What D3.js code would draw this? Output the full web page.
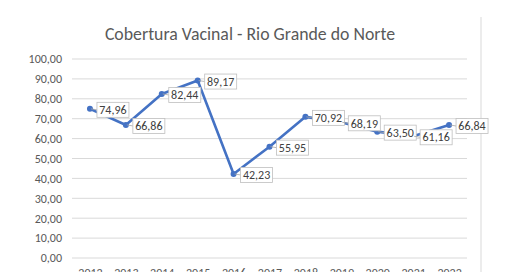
<!DOCTYPE html>
<html>
<head>
<meta charset="utf-8">
<script src="https://cdn.jsdelivr.net/npm/d3@7"></script>
<style>
  body { margin: 0; background: #fff; }
  svg { display: block; font-family: Carlito, Calibri, Lato, sans-serif; }
</style>
</head>
<body>
<div id="chart"></div>
<script>
const width = 520, height = 272;

// data
const years = ["2012", "2013", "2014", "2015", "2016", "2017", "2018", "2019", "2020", "2021", "2022"];
const coverage = [74.96, 66.86, 82.44, 89.17, 42.23, 55.95, 70.92, 68.19, 63.50, 61.16, 66.84];
const yTicks = [0, 10, 20, 30, 40, 50, 60, 70, 80, 90, 100];

const fmt = v => v.toFixed(2).replace(".", ",");

const svg = d3.select("#chart").append("svg")
    .attr("width", width)
    .attr("height", height);

const x = d3.scalePoint()
    .domain(years)
    .range([72, 467])
    .padding(0.5);

const y = d3.scaleLinear()
    .domain([0, 100])
    .range([258, 59]);

// chart area right border
svg.append("line")
    .attr("x1", 481).attr("x2", 481)
    .attr("y1", 17).attr("y2", height)
    .attr("stroke", "#d9d9d9");

// title
svg.append("text")
    .attr("x", 250)
    .attr("y", 40)
    .attr("text-anchor", "middle")
    .attr("fill", "#595959")
    .style("font-size", "17.8px")
    .text("Cobertura Vacinal - Rio Grande do Norte");

// gridlines
svg.append("g")
    .selectAll("line")
    .data(yTicks)
    .enter().append("line")
    .attr("x1", 72).attr("x2", 467)
    .attr("y1", d => y(d)).attr("y2", d => y(d))
    .attr("stroke", "#d9d9d9");

// y axis
const yAxis = svg.append("g")
    .attr("transform", "translate(62,0)")
    .call(d3.axisLeft(y).tickValues(yTicks).tickFormat(fmt).tickSize(0).tickPadding(0));
yAxis.select(".domain").remove();
yAxis.selectAll("text")
    .attr("fill", "#595959")
    .style("font-size", "12px")
    .style("font-family", "Carlito, Calibri, Lato, sans-serif");

// x axis (cut off by the bottom edge, as in the source)
const xAxis = svg.append("g")
    .attr("transform", "translate(0,258)")
    .call(d3.axisBottom(x).tickSize(0).tickPadding(10));
xAxis.select(".domain").remove();
xAxis.selectAll("text")
    .attr("fill", "#595959")
    .style("font-size", "12px")
    .style("font-family", "Carlito, Calibri, Lato, sans-serif");

const pts = years.map((yr, i) => ({ year: yr, value: coverage[i] }));

// series line
svg.append("path")
    .datum(pts)
    .attr("fill", "none")
    .attr("stroke", "#4472c4")
    .attr("stroke-width", 2.6)
    .attr("stroke-linejoin", "round")
    .attr("d", d3.line().x(d => x(d.year)).y(d => y(d.value)));

// markers
svg.append("g")
    .selectAll("circle")
    .data(pts)
    .enter().append("circle")
    .attr("cx", d => x(d.year))
    .attr("cy", d => y(d.value))
    .attr("r", 3)
    .attr("fill", "#4472c4");

// data labels
const label = svg.append("g")
    .selectAll("g")
    .data(pts)
    .enter().append("g")
    .attr("transform", d => "translate(" + (x(d.year) + 7) + "," + (y(d.value) + 1) + ")");

label.append("line")
    .attr("x1", -6).attr("x2", 0)
    .attr("y1", -1).attr("y2", 0)
    .attr("stroke", "#a6a6a6")
    .attr("stroke-width", 0.8);

label.append("rect")
    .attr("x", 0)
    .attr("y", -7.5)
    .attr("width", 32)
    .attr("height", 15)
    .attr("fill", "#fff")
    .attr("stroke", "#bfbfbf")
    .attr("stroke-width", 0.8);

label.append("text")
    .attr("x", 16)
    .attr("y", 4.2)
    .attr("text-anchor", "middle")
    .attr("fill", "#404040")
    .style("font-size", "12px")
    .text(d => fmt(d.value));
</script>
</body>
</html>
